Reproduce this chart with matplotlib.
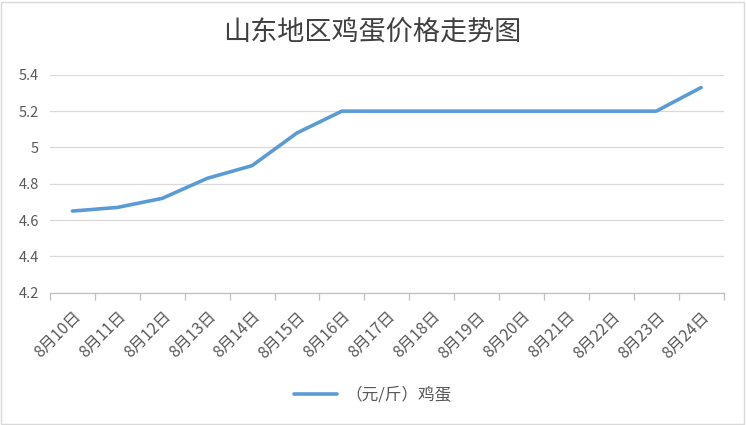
import matplotlib.pyplot as plt
from matplotlib.patches import Rectangle

plt.rcParams['font.family'] = ['Noto Sans CJK SC', 'DejaVu Sans']

# Data
dates = ["8月10日", "8月11日", "8月12日", "8月13日", "8月14日", "8月15日", "8月16日",
         "8月17日", "8月18日", "8月19日", "8月20日", "8月21日", "8月22日", "8月23日", "8月24日"]
prices = [4.65, 4.67, 4.72, 4.83, 4.90, 5.08, 5.20,
          5.20, 5.20, 5.20, 5.20, 5.20, 5.20, 5.20, 5.33]
y_ticks = [4.2, 4.4, 4.6, 4.8, 5.0, 5.2, 5.4]
y_labels = ["4.2", "4.4", "4.6", "4.8", "5", "5.2", "5.4"]

fig = plt.figure(figsize=(7.46, 4.25), dpi=100)
ax = fig.add_axes([0.067, 0.311, 0.903, 0.513])

x = list(range(len(dates)))
line, = ax.plot(x, prices, color="#5B9BD5", linewidth=2.6, solid_capstyle="round",
                label="（元/斤）鸡蛋")

ax.set_xlim(-0.5, len(dates) - 0.5)
ax.set_ylim(4.2, 5.4)
ax.set_yticks(y_ticks)
ax.set_yticklabels(y_labels)
ax.yaxis.grid(True, color="#D9D9D9", linewidth=0.9)
ax.set_axisbelow(True)

ax.set_xticks(x)
ax.set_xticklabels(dates, rotation=45, ha="right", rotation_mode="anchor")
ax.set_xticks([i - 0.5 for i in range(len(dates) + 1)], minor=True)
ax.tick_params(axis="x", which="major", length=0, pad=11, labelsize=11.5, labelcolor="#595959")
ax.tick_params(axis="x", which="minor", length=5, color="#BFBFBF", width=0.9)
ax.tick_params(axis="y", length=0, pad=8, labelsize=10.5, labelcolor="#595959")

for side in ["top", "right", "left"]:
    ax.spines[side].set_visible(False)
ax.spines["bottom"].set_color("#BFBFBF")
ax.spines["bottom"].set_linewidth(0.9)

fig.text(0.499, 0.925, "山东地区鸡蛋价格走势图", ha="center", va="center",
         fontsize=19.5, color="#404040")

fig.legend(handles=[line], loc="center", bbox_to_anchor=(0.5, 0.07), frameon=False,
           fontsize=12, labelcolor="#595959", handlelength=2.6, handletextpad=0.5)

# light frame around the chart
fig.patches.append(Rectangle((0.002, 0.003), 0.995, 0.993, transform=fig.transFigure,
                             fill=False, edgecolor="#D9D9D9", linewidth=1))

fig.savefig("out.png", dpi=100)
